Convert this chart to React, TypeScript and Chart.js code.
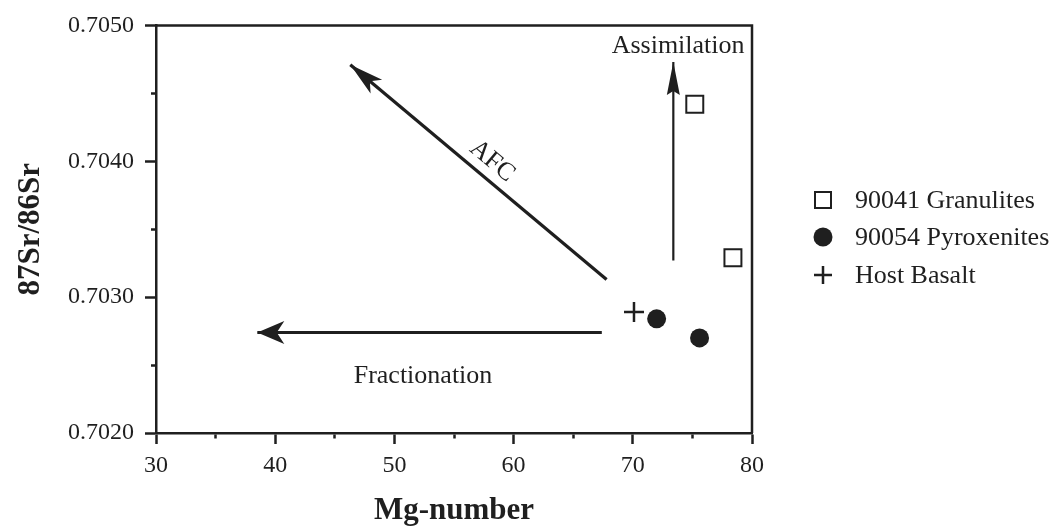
import React, { useEffect, useRef } from 'react';
import { Chart, registerables } from 'chart.js';

Chart.register(...registerables);

// ---- data ----
const granuliteMg = [75.2, 78.4];
const granuliteSr = [0.70442, 0.70329];
const pyroxeniteMg = [72.0, 75.6];
const pyroxeniteSr = [0.70284, 0.7027];
const basaltMg = [70.1];
const basaltSr = [0.70289];

const seriesNames = ['90041 Granulites', '90054 Pyroxenites', 'Host Basalt'];

const xMin = 30;
const xMax = 80;
const yMin = 0.702;
const yMax = 0.705;
const xStep = 5;
const yStep = 0.0005;

// arrows (trend vectors), in data units
const arrowNames = ['AFC', 'Assimilation', 'Fractionation'];
const arrowFromMg = [67.8, 73.4, 67.4];
const arrowFromSr = [0.70313, 0.70327, 0.70274];
const arrowToMg = [46.3, 73.4, 38.5];
const arrowToSr = [0.70471, 0.70473, 0.70274];

// annotation text, in data units
const labelTexts = ['AFC', 'Assimilation', 'Fractionation'];
const labelMg = [58.2, 73.8, 52.4];
const labelSr = [0.704, 0.7048, 0.70237];

const INK = '#1f1f1f';
const FONT = "'Liberation Serif', 'Times New Roman', serif";

const headStyle = [
  { len: 34, half: 9, notch: 0.75, lw: 3.2 },
  { len: 33, half: 6.5, notch: 0.88, lw: 2.2 },
  { len: 27, half: 11.5, notch: 0.72, lw: 3 },
];
const labelRotation = [40, 0, 0];

const toPts = (xs: number[], ys: number[]) => xs.map((x, i) => ({ x, y: ys[i] }));

const overlayPlugin = {
  id: 'overlay',
  afterDatasetsDraw(chart: any) {
    const { ctx, chartArea, scales } = chart;
    const xs = scales.x;
    const ys = scales.y;
    ctx.save();
    // frame (top + right)
    ctx.strokeStyle = INK;
    ctx.lineWidth = 2.5;
    ctx.beginPath();
    ctx.moveTo(chartArea.left, chartArea.top);
    ctx.lineTo(chartArea.right, chartArea.top);
    ctx.lineTo(chartArea.right, chartArea.bottom);
    ctx.stroke();

    // arrowheads
    arrowNames.forEach((_, i) => {
      const x0 = xs.getPixelForValue(arrowFromMg[i]);
      const y0 = ys.getPixelForValue(arrowFromSr[i]);
      const x1 = xs.getPixelForValue(arrowToMg[i]);
      const y1 = ys.getPixelForValue(arrowToSr[i]);
      const d = Math.hypot(x1 - x0, y1 - y0);
      const ux = (x1 - x0) / d;
      const uy = (y1 - y0) / d;
      const nx = -uy;
      const ny = ux;
      const h = headStyle[i];
      const bx = x1 - ux * h.len;
      const by = y1 - uy * h.len;
      ctx.fillStyle = INK;
      ctx.beginPath();
      ctx.moveTo(x1, y1);
      ctx.lineTo(bx + nx * h.half, by + ny * h.half);
      ctx.lineTo(x1 - ux * h.len * h.notch, y1 - uy * h.len * h.notch);
      ctx.lineTo(bx - nx * h.half, by - ny * h.half);
      ctx.closePath();
      ctx.fill();
    });

    // annotation labels
    ctx.fillStyle = INK;
    ctx.font = `26px ${FONT}`;
    labelTexts.forEach((t, i) => {
      const px = xs.getPixelForValue(labelMg[i]);
      const py = ys.getPixelForValue(labelSr[i]);
      ctx.save();
      ctx.translate(px, py);
      ctx.rotate((labelRotation[i] * Math.PI) / 180);
      ctx.textAlign = 'center';
      ctx.textBaseline = labelRotation[i] ? 'middle' : 'alphabetic';
      ctx.fillText(t, 0, 0);
      ctx.restore();
    });

    // legend
    const lx = 823;
    const ly = [200, 237, 275];
    ctx.lineWidth = 2;
    ctx.strokeStyle = INK;
    ctx.fillStyle = '#ffffff';
    ctx.beginPath();
    ctx.rect(lx - 8, ly[0] - 8, 16, 16);
    ctx.fill();
    ctx.stroke();
    ctx.fillStyle = INK;
    ctx.beginPath();
    ctx.arc(lx, ly[1], 9.5, 0, Math.PI * 2);
    ctx.fill();
    ctx.lineWidth = 2.5;
    ctx.beginPath();
    ctx.moveTo(lx - 9, ly[2]);
    ctx.lineTo(lx + 9, ly[2]);
    ctx.moveTo(lx, ly[2] - 9);
    ctx.lineTo(lx, ly[2] + 9);
    ctx.stroke();
    ctx.font = `26px ${FONT}`;
    ctx.textAlign = 'left';
    ctx.textBaseline = 'middle';
    seriesNames.forEach((n, i) => ctx.fillText(n, 855, ly[i] + 1));
    ctx.restore();
  },
};

const isMajorX = (v: number) => Math.round(v) % 10 === 0;
const isMajorY = (v: number) => Math.round(v * 10000) % 10 === 0;

export default function App() {
  const ref = useRef<HTMLCanvasElement>(null);

  useEffect(() => {
    if (!ref.current) return;
    const arrowDatasets = arrowNames.map((name, i) => ({
      label: name,
      data: [
        { x: arrowFromMg[i], y: arrowFromSr[i] },
        { x: arrowToMg[i], y: arrowToSr[i] },
      ],
      showLine: true,
      pointRadius: 0,
      borderColor: INK,
      borderWidth: headStyle[i].lw,
      borderCapStyle: 'butt',
    }));
    const chart = new Chart(ref.current, {
      type: 'scatter',
      data: {
        datasets: [
          ...arrowDatasets,
          {
            label: seriesNames[0],
            data: toPts(granuliteMg, granuliteSr),
            pointStyle: 'rect',
            pointRadius: 12,
            borderWidth: 2,
            borderColor: INK,
            backgroundColor: '#ffffff',
          },
          {
            label: seriesNames[1],
            data: toPts(pyroxeniteMg, pyroxeniteSr),
            pointStyle: 'circle',
            pointRadius: 9.5,
            borderWidth: 0,
            backgroundColor: INK,
            borderColor: INK,
          },
          {
            label: seriesNames[2],
            data: toPts(basaltMg, basaltSr),
            pointStyle: 'cross',
            pointRadius: 10,
            borderWidth: 2.5,
            borderColor: INK,
            backgroundColor: INK,
          },
        ] as any,
      },
      options: {
        animation: false,
        responsive: false,
        events: [],
        layout: { padding: { left: 0, top: 23, right: 303, bottom: 0 } },
        plugins: { legend: { display: false }, tooltip: { enabled: false } },
        scales: {
          x: {
            type: 'linear',
            min: xMin,
            max: xMax,
            afterFit: (s: any) => {
              s.height = 98;
            },
            border: { display: true, color: INK, width: 2.5 },
            grid: {
              display: true,
              drawOnChartArea: false,
              drawTicks: true,
              tickLength: 11,
              tickWidth: 2.5,
              tickColor: INK,
              tickBorderDash: (c: any) => (isMajorX(c.tick.value) ? [] : [4, 30]),
            },
            ticks: {
              stepSize: xStep,
              autoSkip: false,
              maxRotation: 0,
              padding: 7,
              color: INK,
              font: { family: FONT, size: 24 },
              callback: (v: any) => (isMajorX(Number(v)) ? String(Math.round(Number(v))) : ''),
            },
            title: {
              display: true,
              text: 'Mg-number',
              color: INK,
              font: { family: FONT, size: 31, weight: 'bold' },
              padding: { top: 0, bottom: 1 },
            },
          },
          y: {
            type: 'linear',
            min: yMin,
            max: yMax,
            afterFit: (s: any) => {
              s.width = 156;
            },
            border: { display: true, color: INK, width: 2.5 },
            grid: {
              display: true,
              drawOnChartArea: false,
              drawTicks: true,
              tickLength: 11,
              tickWidth: 2.5,
              tickColor: INK,
              tickBorderDash: (c: any) => (isMajorY(c.tick.value) ? [] : [5, 6]),
              tickBorderDashOffset: (c: any) => (isMajorY(c.tick.value) ? 0 : 5),
            },
            ticks: {
              stepSize: yStep,
              autoSkip: false,
              padding: 11,
              color: INK,
              font: { family: FONT, size: 24 },
              callback: (v: any) => (isMajorY(Number(v)) ? Number(v).toFixed(4) : ''),
            },
            title: {
              display: true,
              text: '87Sr/86Sr',
              color: INK,
              font: { family: FONT, size: 31, weight: 'bold' },
              padding: { top: 12, bottom: 0 },
            },
          },
        },
      } as any,
      plugins: [overlayPlugin],
    });
    return () => chart.destroy();
  }, []);

  return (
    <canvas
      ref={ref}
      width={1055}
      height={531}
      style={{ position: 'absolute', left: 0, top: 0, width: 1055, height: 531, background: '#fff' }}
    />
  );
}
